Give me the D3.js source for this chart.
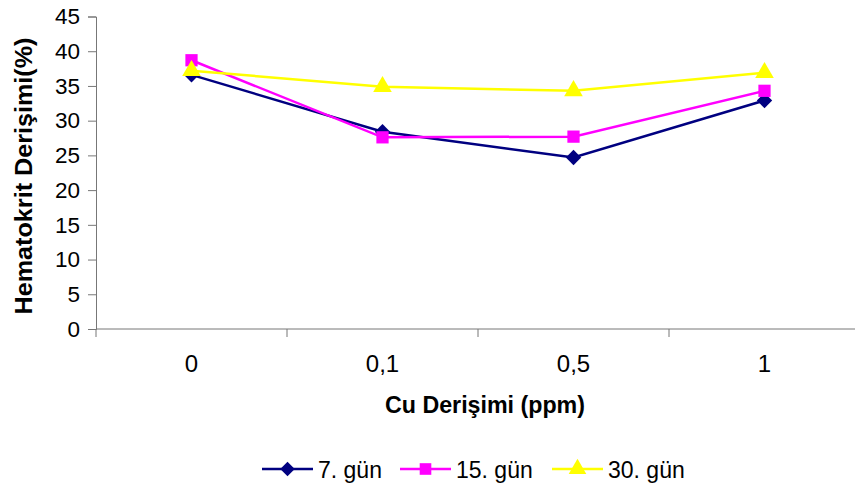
<!DOCTYPE html>
<html>
<head>
<meta charset="UTF-8">
<title>Hematokrit</title>
<style>
  body { margin: 0; background: #fff; }
  svg { display: block; font-family: "Liberation Sans", Arial, sans-serif; }
</style>
</head>
<body>
<svg></svg>
<script src="https://d3js.org/d3.v7.min.js"></script>
<script>
let width = 855, height = 487;

// data
let categories = ["0", "0,1", "0,5", "1"];
let seriesNames = ["7. gün", "15. gün", "30. gün"];
let gun7 = [36.6, 28.4, 24.7, 32.9];
let gun15 = [38.7, 27.6, 27.7, 34.3];
let gun30 = [37.2, 34.9, 34.3, 36.9];
let yTicks = [0, 5, 10, 15, 20, 25, 30, 35, 40, 45];

let colors = ["#000080", "#FF00FF", "#FFFF00"];
let symbols = [d3.symbolDiamond2, d3.symbolSquare, d3.symbolTriangle];
let symSizes = [150, 150, 150];
let series = [gun7, gun15, gun30];

let svg = d3.select("svg").attr("width", width).attr("height", height);

let plotLeft = 96, plotRight = 860, plotTop = 16.5, plotBottom = 329;

let x = d3.scaleBand().domain(categories).range([plotLeft, plotRight]);
let y = d3.scaleLinear().domain([0, 45]).range([plotBottom, plotTop]);

// y axis
let yAxis = svg.append("g")
  .attr("transform", "translate(" + plotLeft + ",0)")
  .call(d3.axisLeft(y).tickValues(yTicks).tickSize(8).tickPadding(8));
yAxis.selectAll("text").style("font-size", "22.5px").attr("fill", "#000");
yAxis.selectAll("line").attr("stroke", "#777");
yAxis.select(".domain").attr("stroke", "#777");

// x axis with ticks at band boundaries
let xg = svg.append("g").attr("transform", "translate(0," + plotBottom + ")");
xg.append("line").attr("x1", plotLeft).attr("x2", plotRight).attr("stroke", "#777");
let bounds = categories.map(c => x(c)).concat([plotRight]);
xg.selectAll("line.tk").data(bounds).enter().append("line")
  .attr("class", "tk")
  .attr("x1", d => d).attr("x2", d => d)
  .attr("y1", 0).attr("y2", 8).attr("stroke", "#777");
xg.selectAll("text").data(categories).enter().append("text")
  .attr("x", d => x(d) + x.bandwidth() / 2)
  .attr("y", 43)
  .attr("text-anchor", "middle")
  .style("font-size", "24px")
  .text(d => d);

// axis titles
svg.append("text")
  .attr("x", 485).attr("y", 413)
  .attr("text-anchor", "middle")
  .attr("textLength", 200).attr("lengthAdjust", "spacingAndGlyphs")
  .style("font-size", "24px").style("font-weight", "bold")
  .text("Cu Derişimi (ppm)");
svg.append("text")
  .attr("transform", "translate(32,176) rotate(-90)")
  .attr("text-anchor", "middle")
  .attr("textLength", 277).attr("lengthAdjust", "spacingAndGlyphs")
  .style("font-size", "24px").style("font-weight", "bold")
  .text("Hematokrit Derişimi(%)");

// lines and markers
let line = d3.line()
  .x((d, i) => x(categories[i]) + x.bandwidth() / 2)
  .y(d => y(d));

series.forEach((s, k) => {
  svg.append("path")
    .datum(s)
    .attr("d", line)
    .attr("fill", "none")
    .attr("stroke", colors[k])
    .attr("stroke-width", 2.5);
});
series.forEach((s, k) => {
  svg.append("g").selectAll("path")
    .data(s).enter().append("path")
    .attr("transform", (d, i) => "translate(" + (x(categories[i]) + x.bandwidth() / 2) + "," + y(d) + ")")
    .attr("d", d3.symbol().type(symbols[k]).size(symSizes[k]))
    .attr("fill", colors[k]);
});

// legend
let legendX = [262, 400, 552];
let legend = svg.append("g");
seriesNames.forEach((n, k) => {
  let g = legend.append("g").attr("transform", "translate(" + legendX[k] + ",469)");
  g.append("line").attr("x1", 0).attr("x2", 51).attr("stroke", colors[k]).attr("stroke-width", 2.5);
  g.append("path").attr("transform", "translate(25.5,0)")
    .attr("d", d3.symbol().type(symbols[k]).size(symSizes[k] * 0.9))
    .attr("fill", colors[k]);
  g.append("text").attr("x", 56).attr("y", 9)
    .style("font-size", "23px").text(n);
});
</script>
</body>
</html>
